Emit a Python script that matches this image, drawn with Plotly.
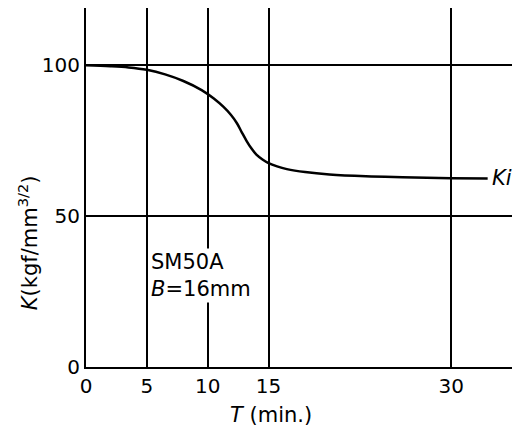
import plotly.graph_objects as go

# Data
T = [0, 2, 3.5, 5, 6.5, 8, 9.5, 10.5, 11.3, 11.9, 12.4, 12.8, 13.2, 13.6, 14.0, 14.5, 15, 15.7, 16.5, 18, 20, 23, 26, 30, 33]
K = [100, 99.7, 99.3, 98.5, 97, 94.8, 91.8, 89, 86.2, 83.6, 80.8, 77.8, 74.9, 72.4, 70.4, 68.8, 67.6, 66.5, 65.6, 64.6, 63.8, 63.2, 62.9, 62.6, 62.5]

x_ticks = [0, 5, 10, 15, 30]
y_ticks = [0, 50, 100]

FONT = "DejaVu Sans"

fig = go.Figure()
fig.add_trace(go.Scatter(x=T, y=K, mode="lines",
                         line=dict(color="black", width=2.5, shape="spline", smoothing=1.0),
                         showlegend=False, hoverinfo="skip"))

fig.update_layout(
    width=523, height=432,
    margin=dict(l=86, r=11, t=8, b=65),
    paper_bgcolor="white", plot_bgcolor="white",
    font=dict(family=FONT, size=20, color="black"),
    xaxis=dict(range=[0, 35], tickvals=x_ticks, ticktext=[str(v) for v in x_ticks],
               showgrid=True, gridcolor="black", gridwidth=2,
               showline=True, linecolor="black", linewidth=2, mirror=False,
               zeroline=False, ticks="", tickfont=dict(size=20)),
    yaxis=dict(range=[0, 119], tickvals=y_ticks, ticktext=[str(v) for v in y_ticks],
               showgrid=True, gridcolor="black", gridwidth=1.5,
               showline=True, linecolor="black", linewidth=2, mirror=False,
               zeroline=False, ticks="", tickfont=dict(size=20)),
    annotations=[
        dict(text="<i>K</i>(kgf/mm<sup>3/2</sup>)", textangle=-90,
             xref="paper", yref="paper", x=-0.136, y=0.345,
             xanchor="center", yanchor="middle", showarrow=False, font=dict(size=21)),
        dict(text="<i>T</i> (min.)", xref="paper", yref="paper", x=0.435, y=-0.134,
             xanchor="center", yanchor="middle", showarrow=False, font=dict(size=21)),
        dict(text="<i>Ki</i>", x=33.2, y=62.5, xanchor="left", yanchor="middle",
             showarrow=False, font=dict(size=21)),
        dict(text="SM50A<br><i>B</i>=16mm", x=5.15, y=30.2, xanchor="left", yanchor="middle",
             align="left", showarrow=False, bgcolor="white", font=dict(size=21)),
    ],
)

fig.write_html("out.html")
